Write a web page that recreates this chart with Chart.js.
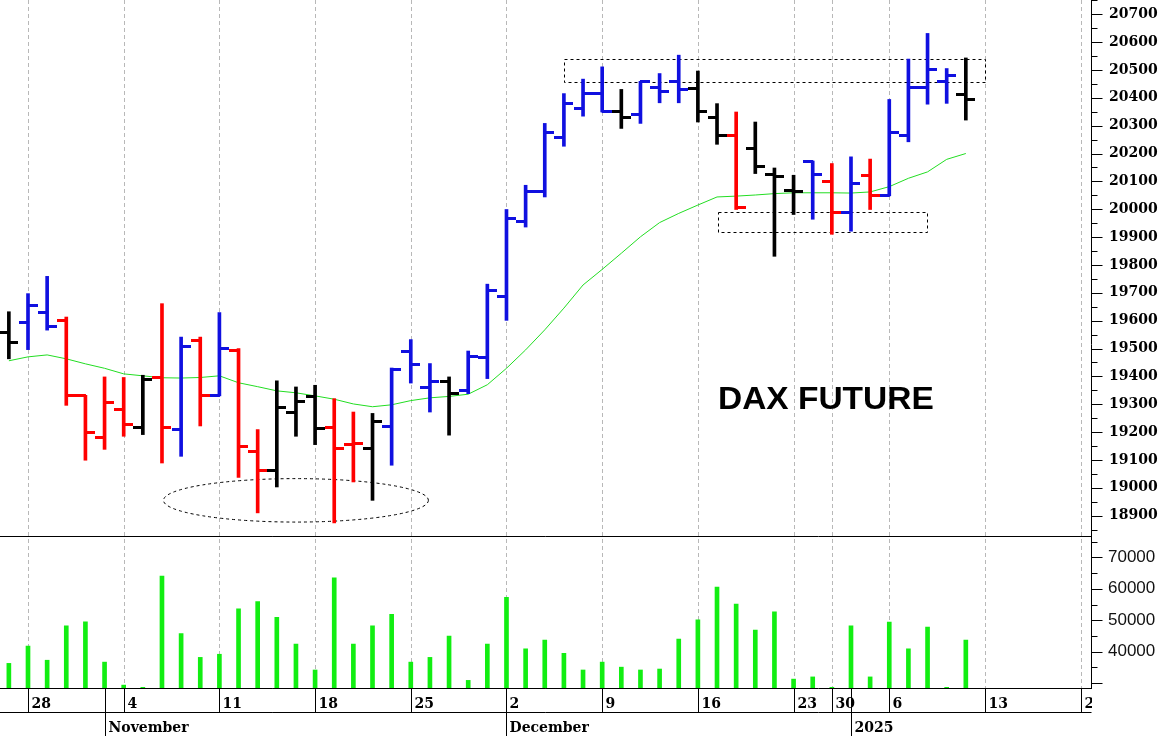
<!DOCTYPE html>
<html>
<head>
<meta charset="utf-8">
<script src="https://cdn.jsdelivr.net/npm/chart.js@4.4.1/dist/chart.umd.min.js"></script>
<style>
  html, body { margin: 0; padding: 0; background: #fff; }
  #wrap { width: 1162px; height: 736px; }
</style>
</head>
<body>
<div id="wrap"><canvas id="dax" width="1162" height="736"></canvas></div>
<script>
// trading days along the x axis (the last ones have no bars yet)
const dates = [
  '2024-10-25','2024-10-28','2024-10-29','2024-10-30','2024-10-31','2024-11-01',
  '2024-11-04','2024-11-05','2024-11-06','2024-11-07','2024-11-08',
  '2024-11-11','2024-11-12','2024-11-13','2024-11-14','2024-11-15',
  '2024-11-18','2024-11-19','2024-11-20','2024-11-21','2024-11-22',
  '2024-11-25','2024-11-26','2024-11-27','2024-11-28','2024-11-29',
  '2024-12-02','2024-12-03','2024-12-04','2024-12-05','2024-12-06',
  '2024-12-09','2024-12-10','2024-12-11','2024-12-12','2024-12-13',
  '2024-12-16','2024-12-17','2024-12-18','2024-12-19','2024-12-20',
  '2024-12-23','2024-12-27','2024-12-30','2025-01-02','2025-01-03',
  '2025-01-06','2025-01-07','2025-01-08','2025-01-09','2025-01-10',
  '2025-01-13','2025-01-14','2025-01-15','2025-01-16','2025-01-17','2025-01-20'
];

const opens = [19557,19595,19628,19600,19332,19180,19282,19215,19396,19210,19530,
  19332,19494,19129,19062,19269,19326,19216,19155,19141,19221,19488,19360,19380,19350,19468,
  19688,19957,20062,20257,20361,20415,20352,20341,20437,20457,20433,20329,20266,20218,20126,
  20066,20173,20098,19988,20120,20050,20266,20437,20457,20410];
const highs = [19632,19697,19759,19613,19332,19398,19396,19404,19661,19541,19541,
  19629,19500,19209,19384,19362,19368,19320,19272,19267,19430,19532,19446,19398,19491,19731,
  19999,20086,20308,20415,20467,20511,20430,20459,20487,20553,20496,20379,20349,20313,20148,
  20122,20173,20164,20188,20180,20394,20539,20631,20505,20543];
const lows = [19463,19496,19566,19296,19099,19138,19185,19191,19089,19113,19222,
  19330,19037,18910,19003,19185,19155,18874,19021,18955,19081,19376,19272,19189,19338,19392,
  19601,19936,20044,20226,20334,20349,20290,20308,20382,20382,20313,20233,19999,20128,19831,
  19981,19964,19910,19921,19999,20048,20242,20377,20380,20320];
const closes = [19523,19653,19580,19333,19197,19305,19227,19390,19215,19508,19330,
  19500,19150,19062,19288,19311,19213,19141,19159,19239,19426,19442,19380,19338,19470,19709,
  19967,20062,20277,20379,20415,20349,20329,20459,20421,20431,20349,20266,20005,20152,20116,
  20065,20126,19988,20094,20050,20274,20437,20502,20481,20395];
// trend state of each bar: 1 up, -1 down, 0 neutral
const signals = [0,1,1,-1,-1,-1,-1,0,-1,1,-1,
  1,-1,-1,0,0,0,-1,-1,0,1,1,1,0,1,1,
  1,1,1,1,1,1,0,1,1,1,0,0,-1,0,0,
  0,1,-1,1,-1,1,1,1,1,0];
const volumes = [36300,41800,37300,48200,49500,36700,29400,28700,64000,45800,38200,
  39200,53600,55900,50900,42400,34200,63500,42400,48200,51900,36700,38200,45000,30900,42400,
  57300,40900,43700,39500,34200,36700,35100,34200,34500,44000,50100,60500,55100,46900,52700,
  31300,32000,28700,48200,32000,49400,40900,47800,28700,43700];
// moving average (green line)
const average = [19456,19470,19477,19463,19445,19429,19409,19402,19395,19394,19396,
  19402,19377,19363,19348,19341,19330,19318,19301,19291,19298,19313,19323,19328,19336,19370,
  19429,19495,19567,19645,19728,19784,19842,19901,19952,19985,20015,20044,20047,20051,20056,
  20059,20059,20059,20058,20062,20081,20111,20134,20179,20200];

const priceTicks = [18900,19000,19100,19200,19300,19400,19500,19600,19700,19800,
  19900,20000,20100,20200,20300,20400,20500,20600,20700];
const volumeTicks = [30000,40000,50000,60000,70000];

// chart annotations, in days / points
const boxes = [
  { from: 29.02, to: 51, lo: 20455, hi: 20538 },
  { from: 37.07, to: 47.95, lo: 19917, hi: 19991 }
];
const ring = { at: 15, price: 18955, halfDays: 6.92, halfPts: 78 };
const title = { text: 'DAX FUTURE', at: 37.05, price: 19283 };

const MONTHS = ['January','February','March','April','May','June','July','August',
  'September','October','November','December'];
const COLORS = { '1': '#1010e0', '-1': '#ff0000', '0': '#000000' };

const day = d => new Date(d + 'T12:00:00Z');
const isMonday = d => day(d).getUTCDay() === 1;

function tickImage(color, side) {
  const c = document.createElement('canvas');
  c.width = 19; c.height = 3;
  const g = c.getContext('2d');
  g.fillStyle = color;
  g.fillRect(side < 0 ? 0 : 9, 0, 10, 3);
  return c;
}
const openImg = {}, closeImg = {};
[-1, 0, 1].forEach(s => {
  openImg[s] = tickImage(COLORS[s], -1);
  closeImg[s] = tickImage(COLORS[s], 1);
});

const line = (ctx, x1, y1, x2, y2) => {
  ctx.beginPath(); ctx.moveTo(x1, y1); ctx.lineTo(x2, y2); ctx.stroke();
};

const frame = {
  id: 'frame',
  beforeDatasetsDraw(chart) {
    const { ctx, chartArea: a, scales: { x, y } } = chart;
    ctx.save();
    // weekly dashed grid
    ctx.strokeStyle = '#b8b8b8';
    ctx.lineWidth = 1;
    ctx.setLineDash([4, 3]);
    dates.forEach((d, i) => {
      if (!isMonday(d)) return;
      const px = Math.round(x.getPixelForValue(i)) + 0.5;
      if (px > a.right) return;
      line(ctx, px, a.top, px, a.bottom);
    });
    // annotations
    ctx.strokeStyle = '#000';
    ctx.setLineDash([3, 3]);
    boxes.forEach(b => {
      const x1 = Math.round(x.getPixelForValue(b.from)) + 0.5;
      const x2 = Math.round(x.getPixelForValue(b.to)) + 0.5;
      const y1 = Math.round(y.getPixelForValue(b.hi)) + 0.5;
      const y2 = Math.round(y.getPixelForValue(b.lo)) + 0.5;
      ctx.strokeRect(x1, y1, x2 - x1, y2 - y1);
    });
    const cx = x.getPixelForValue(ring.at), cy = y.getPixelForValue(ring.price);
    const rx = x.getPixelForValue(ring.at + ring.halfDays) - cx;
    const ry = cy - y.getPixelForValue(ring.price + ring.halfPts);
    ctx.beginPath();
    ctx.ellipse(cx, cy, rx, ry, 0, 0, Math.PI * 2);
    ctx.stroke();
    ctx.setLineDash([]);
    ctx.fillStyle = '#000';
    ctx.font = 'bold 31px "Liberation Sans"';
    ctx.textBaseline = 'alphabetic';
    ctx.translate(x.getPixelForValue(title.at), y.getPixelForValue(title.price));
    ctx.scale(1.08, 1);
    ctx.fillText(title.text, 0, 0);
    ctx.restore();
  },
  afterDraw(chart) {
    const { ctx, chartArea: a, scales: { x, y, yv } } = chart;
    const H = chart.height;
    ctx.save();
    ctx.strokeStyle = '#000';
    ctx.lineWidth = 1;
    const axisX = Math.round(a.right) + 0.5;
    line(ctx, axisX, a.top, axisX, a.bottom);
    // panel separator
    const sep = Math.round(y.bottom) + 0.5;
    line(ctx, 0, sep, axisX, sep);
    // right axis tick marks
    const marks = (scale, minor, major) => {
      for (let v = Math.ceil(scale.min / minor) * minor; v <= scale.max; v += minor) {
        const py = Math.round(scale.getPixelForValue(v)) + 0.5;
        line(ctx, axisX, py, axisX + (v % major === 0 ? 11 : 6), py);
      }
    };
    marks(y, 50, 100);
    marks(yv, 5000, 10000);
    // date rows
    const r0 = Math.round(a.bottom) - 0.5, r1 = r0 + 24;
    line(ctx, 0, r0, axisX, r0);
    line(ctx, 0, r1, axisX, r1);
    ctx.beginPath();
    ctx.rect(0, r0, axisX + 0.5, H - r0);
    ctx.clip();
    ctx.fillStyle = '#000';
    ctx.font = 'bold 14px "DejaVu Serif"';
    ctx.textAlign = 'left';
    ctx.textBaseline = 'alphabetic';
    dates.forEach((d, i) => {
      const px = Math.round(x.getPixelForValue(i)) + 0.5;
      const t = day(d);
      if (isMonday(d)) {
        line(ctx, px, r0, px, r1);
        ctx.fillText(String(t.getUTCDate()), px + 3, r0 + 19);
      }
      if (i > 0 && day(dates[i - 1]).getUTCMonth() !== t.getUTCMonth()) {
        line(ctx, px, r0, px, H);
        const m = t.getUTCMonth();
        ctx.fillText(m === 0 ? String(t.getUTCFullYear()) : MONTHS[m], px + 3, r1 + 19);
      }
    });
    ctx.restore();
  }
};

const idx = opens.map((_, i) => i);
const colorOf = c => COLORS[signals[c.dataIndex]];
const fitRight = s => {
  s.width = 71;
  s.paddingTop = 0; s.paddingBottom = 0; s.paddingLeft = 0; s.paddingRight = 0;
};

new Chart(document.getElementById('dax'), {
  type: 'bar',
  data: {
    datasets: [
      {
        type: 'scatter', yAxisID: 'y',
        data: idx.map(i => ({ x: i, y: opens[i] })),
        pointRadius: 5,
        pointStyle: c => openImg[signals[c.dataIndex]]
      },
      {
        type: 'scatter', yAxisID: 'y',
        data: idx.map(i => ({ x: i, y: closes[i] })),
        pointRadius: 5,
        pointStyle: c => closeImg[signals[c.dataIndex]]
      },
      {
        type: 'bar', yAxisID: 'y',
        data: idx.map(i => ({ x: i, y: [lows[i], highs[i]] })),
        grouped: false, barThickness: 3, maxBarThickness: 3,
        backgroundColor: colorOf, borderWidth: 0
      },
      {
        type: 'line', yAxisID: 'y',
        data: idx.map(i => ({ x: i, y: average[i] })),
        borderColor: '#22dd22', borderWidth: 1, pointRadius: 0, tension: 0
      },
      {
        type: 'bar', yAxisID: 'yv',
        data: idx.map(i => ({ x: i, y: volumes[i] })),
        grouped: false, barThickness: 4, maxBarThickness: 4,
        backgroundColor: '#12ee12', borderWidth: 0
      }
    ]
  },
  options: {
    responsive: false,
    animation: false,
    events: [],
    layout: { autoPadding: false, padding: { left: 0, right: 0, top: 0, bottom: 47 } },
    plugins: { legend: { display: false }, tooltip: { enabled: false } },
    scales: {
      x: {
        type: 'linear', display: false, offset: false,
        min: -0.463, max: 56.54
      },
      y: {
        type: 'linear', position: 'right', stack: 'panels', stackWeight: 536,
        min: 18827, max: 20751, beginAtZero: false,
        grid: { display: false, drawTicks: false },
        border: { display: false },
        afterBuildTicks: s => { s.ticks = priceTicks.map(v => ({ value: v })); },
        ticks: {
          autoSkip: false, padding: 18,
          color: '#000',
          font: { family: 'DejaVu Serif', size: 14, weight: 'bold' },
          callback: v => String(v)
        },
        afterFit: fitRight
      },
      yv: {
        type: 'linear', position: 'right', stack: 'panels', stackWeight: 153,
        min: 28160, max: 76760, beginAtZero: false,
        grid: { display: false, drawTicks: false },
        border: { display: false },
        afterBuildTicks: s => { s.ticks = volumeTicks.map(v => ({ value: v })); },
        ticks: {
          autoSkip: false, padding: 17,
          color: '#111',
          font: { family: 'Liberation Sans', size: 17 },
          callback: v => (v >= 40000 ? String(v) : '')
        },
        afterFit: fitRight
      }
    }
  },
  plugins: [frame]
});
</script>
</body>
</html>
